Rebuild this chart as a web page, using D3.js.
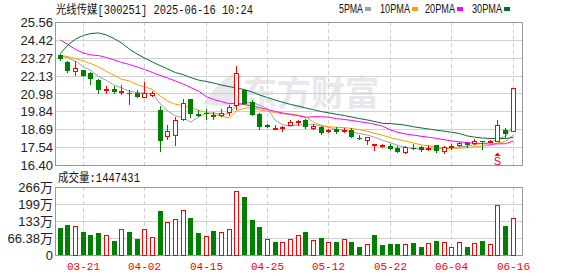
<!DOCTYPE html>
<meta charset='utf-8'>
<head>
    <title>K</title>
    <script src='https://cdn.jsdelivr.net/npm/d3@7/dist/d3.min.js'></script>
</head>
<style>
    body { margin: 0; background: #fff; }
    text { font-family: 'Liberation Sans', 'Noto Sans CJK SC', sans-serif; }
    .mono { font-family: 'Liberation Mono', 'Noto Sans CJK SC', monospace; }
</style>
<svg></svg>
<script>
    var vWidth = 578, vHeight = 276;

    var dates = ['03-18','03-19','03-20','03-21','03-24','03-25','03-26','03-27','03-28','03-31',
        '04-01','04-02','04-03','04-07','04-08','04-09','04-10','04-11','04-14','04-15',
        '04-16','04-17','04-18','04-21','04-22','04-23','04-24','04-25','04-28','04-29',
        '04-30','05-06','05-07','05-08','05-09','05-12','05-13','05-14','05-15','05-16',
        '05-19','05-20','05-21','05-22','05-23','05-26','05-27','05-28','05-29','05-30',
        '06-03','06-04','06-05','06-06','06-09','06-10','06-11','06-12','06-13','06-16'];
    var open = [23.42,23.00,22.44,22.47,22.31,21.84,21.18,21.25,21.08,21.01,
        20.99,20.74,20.89,19.92,18.24,18.30,19.35,20.63,19.67,19.73,
        19.58,19.58,19.79,20.26,21.18,20.44,19.67,18.96,18.71,18.77,
        18.94,19.15,19.28,18.77,18.81,18.60,18.71,18.56,18.66,18.13,
        18.00,17.66,17.64,17.62,17.47,17.25,17.51,17.55,17.41,17.66,
        17.30,17.53,17.66,17.79,17.79,17.94,17.87,17.96,18.62,18.56];
    var high = [23.49,23.04,23.04,22.50,22.36,21.91,21.44,21.44,21.50,21.18,
        21.18,21.74,21.14,20.18,18.98,19.47,20.60,20.63,19.94,19.97,
        19.79,19.97,20.22,22.74,21.29,20.54,19.75,19.01,18.94,18.90,
        19.28,19.30,19.37,19.03,18.90,18.69,18.83,18.79,18.75,18.30,
        18.19,17.77,17.75,17.77,17.62,17.62,17.73,17.62,17.68,17.70,
        17.62,17.73,17.90,17.85,18.09,17.94,18.03,19.26,18.80,21.31];
    var low = [23.11,22.36,22.18,22.08,21.61,21.03,21.03,21.01,20.97,20.33,
        20.76,20.74,20.82,17.28,18.05,17.66,19.30,19.50,19.52,19.37,
        19.33,19.54,19.62,19.97,20.29,19.58,18.69,18.81,18.69,18.58,
        18.94,18.98,18.77,18.69,18.41,18.52,18.43,18.52,18.19,18.07,
        17.77,17.36,17.57,17.43,17.25,17.19,17.41,17.30,17.34,17.23,
        17.19,17.45,17.62,17.57,17.75,17.45,17.85,17.92,18.19,18.56];
    var close = [23.17,22.44,22.59,22.12,21.93,21.22,21.24,21.08,21.16,20.95,
        20.78,20.99,21.01,17.92,18.56,19.26,20.35,19.65,19.56,19.67,
        19.47,19.71,20.09,22.31,20.33,19.62,18.81,18.85,18.77,18.83,
        19.15,19.22,18.85,18.90,18.43,18.66,18.52,18.64,18.19,18.07,
        18.19,17.75,17.68,17.43,17.25,17.53,17.45,17.34,17.51,17.32,
        17.55,17.60,17.83,17.66,17.92,17.90,17.94,18.94,18.41,21.31];
    // 成交量, 单位: 万
    var volume = [106,117,113,90,78,86,78,55,100,90,
        62,101,70,171,128,140,175,145,86,74,
        93,90,101,249,226,136,109,62,51,49,
        62,78,90,58,66,51,51,62,51,31,
        43,78,39,43,43,43,47,31,47,55,
        51,31,51,31,47,55,43,197,113,144.7431];

    // MA values before enough closes are on screen
    var ma5Lead = [23.42,23.25,23.05,22.70];
    var ma10Lead = [23.43,23.34,23.21,23.06,22.89,22.68,22.40,22.15,21.89];
    var ma20Lead = [24.41,24.12,23.80,23.57,23.45,23.41,23.29,23.13,22.97,22.84,
        22.68,22.52,22.33,22.14,21.97,21.78,21.59,21.36,21.14];
    var ma30Lead = [23.54,24.09,24.47,24.70,24.82,24.86,24.73,24.50,24.21,23.83,
        23.51,23.25,23.00,22.77,22.55,22.32,22.19,22.00,21.84,21.75,
        21.65,21.52,21.42,21.33,21.23,21.08,20.88,20.72,20.56];

    var priceTicks = [16.40,17.54,18.69,19.84,20.98,22.13,23.27,24.42,25.56];
    var volTicks = [0,66.38,132.76,199.14,265.52];
    var volTickLabels = ['0','66.38万','133万','199万','266万'];
    var dateTicks = ['03-21','04-02','04-15','04-25','05-12','05-22','06-04','06-16'];
    var maNames = ['5PMA','10PMA','20PMA','30PMA'];
    var maColors = ['#a0a0a0','#f5a100','#ff00ff','#0b6b35'];

    var RED = '#ff0000', GREEN = '#008000';

    var svg = d3.select('svg').attr('width', vWidth).attr('height', vHeight);

    var L = 55, R = 522, T = 22, B = 165, VT = 187, VB = 255;

    var x = d3.scalePoint().domain(dates).range([60.3, 513.1]);
    var y = d3.scaleLinear().domain([16.40, 25.56]).range([B, T]);
    var yv = d3.scaleLinear().domain([0, 265.52]).range([VB, VT]);

    function cx(d) { return Math.floor(x(d)); }

    // watermark
    var wm = svg.append('g').attr('fill', '#e7e7ec');
    wm.append('path')
        .attr('d', 'M203,104 C214,88 226,76 240,70 C230,80 222,92 218,106 Z M214,106 C220,92 230,80 242,74 C236,86 232,96 232,106 Z');
    wm.append('text').attr('x', 243).attr('y', 106)
        .attr('font-family', 'Noto Sans CJK SC').attr('font-weight', 'bold')
        .attr('font-size', 35).attr('textLength', 136).attr('lengthAdjust', 'spacingAndGlyphs')
        .text('东方财富');

    // grid
    var grid = svg.append('g').attr('stroke', '#d0d0d0').attr('shape-rendering', 'crispEdges');
    grid.selectAll('.hp').data(priceTicks.slice(1, -1)).enter().append('line')
        .attr('x1', L).attr('x2', R)
        .attr('y1', function(d) { return Math.round(y(d)) + 0.5; })
        .attr('y2', function(d) { return Math.round(y(d)) + 0.5; });
    grid.selectAll('.hv').data(volTicks.slice(1, -1)).enter().append('line')
        .attr('x1', L).attr('x2', R)
        .attr('y1', function(d) { return Math.round(yv(d)) + 0.5; })
        .attr('y2', function(d) { return Math.round(yv(d)) + 0.5; });
    dateTicks.forEach(function(d) {
        [[T, B], [VT, VB]].forEach(function(r) {
            grid.append('line').attr('stroke-dasharray', '4,3')
                .attr('x1', cx(d) + 0.5).attr('x2', cx(d) + 0.5)
                .attr('y1', r[0]).attr('y2', r[1]);
        });
    });

    // frames
    svg.append('rect').attr('x', L + 0.5).attr('y', T + 0.5).attr('width', R - L).attr('height', B - T)
        .attr('fill', 'none').attr('stroke', '#999');
    svg.append('rect').attr('x', L + 0.5).attr('y', VT + 0.5).attr('width', R - L).attr('height', VB - VT)
        .attr('fill', 'none').attr('stroke', '#999');

    // moving averages
    function ma(n, lead) {
        return close.map(function(c, i) {
            if (i < n - 1) return lead[i];
            return d3.mean(close.slice(i - n + 1, i + 1));
        });
    }
    var maSeries = [ma(5, ma5Lead), ma(10, ma10Lead), ma(20, ma20Lead), ma(30, ma30Lead)];
    var line = d3.line().x(function(d, i) { return x(dates[i]); }).y(function(d) { return y(d); });
    svg.append('g').selectAll('path').data(maSeries).enter().append('path')
        .attr('d', line).attr('fill', 'none').attr('stroke-width', 1)
        .attr('stroke', function(d, i) { return maColors[i]; });

    // candles
    var candles = dates.map(function(d, i) {
        return {date: d, o: open[i], h: high[i], l: low[i], c: close[i], v: volume[i],
            up: close[i] >= open[i], vup: i === 0 ? close[i] >= open[i] : close[i] >= close[i - 1]};
    });
    var cg = svg.append('g').attr('shape-rendering', 'crispEdges');
    var k = cg.selectAll('g').data(candles).enter().append('g');
    k.append('line')
        .attr('x1', function(d) { return cx(d.date) + 0.5; })
        .attr('x2', function(d) { return cx(d.date) + 0.5; })
        .attr('y1', function(d) { return Math.round(y(d.h)); })
        .attr('y2', function(d) { return Math.round(y(d.l)) + 1; })
        .attr('stroke', function(d) { return d.up ? RED : GREEN; });
    k.append('rect')
        .attr('x', function(d) { return d.up ? cx(d.date) - 1.5 : cx(d.date) - 2; })
        .attr('y', function(d) { var t = Math.round(y(Math.max(d.o, d.c))); return d.up ? t + 0.5 : t; })
        .attr('width', function(d) { return d.up ? 4 : 5; })
        .attr('height', function(d) {
            var h = Math.round(y(Math.min(d.o, d.c))) - Math.round(y(Math.max(d.o, d.c)));
            return d.up ? Math.max(h, 0.01) : Math.max(h, 1);
        })
        .attr('fill', function(d) { return d.up ? '#fff' : GREEN; })
        .attr('stroke', function(d) { return d.up ? RED : 'none'; });

    // volume bars
    svg.append('g').attr('shape-rendering', 'crispEdges').selectAll('rect').data(candles).enter().append('rect')
        .attr('x', function(d) { return d.vup ? cx(d.date) - 1.5 : cx(d.date) - 2; })
        .attr('y', function(d) { var t = Math.round(yv(d.v)); return d.vup ? t + 0.5 : t; })
        .attr('width', function(d) { return d.vup ? 4 : 5; })
        .attr('height', function(d) { return VB - Math.round(yv(d.v)) - (d.vup ? 0.5 : 0); })
        .attr('fill', function(d) { return d.vup ? '#fff' : GREEN; })
        .attr('stroke', function(d) { return d.vup ? RED : 'none'; });

    // signal marker
    var sx = cx('06-12') + 0.5;
    svg.append('path').attr('d', 'M' + (sx - 3) + ',156 L' + sx + ',152.5 L' + (sx + 3) + ',156 Z').attr('fill', RED);
    svg.append('text').attr('x', sx).attr('y', 164.5).attr('text-anchor', 'middle')
        .attr('font-size', 11).attr('fill', RED).text('S');

    // y labels
    svg.append('g').selectAll('text').data(priceTicks).enter().append('text')
        .attr('x', 53).attr('y', function(d) { return y(d) + 5; })
        .attr('text-anchor', 'end').attr('font-size', 13).attr('fill', '#222')
        .text(function(d) { return d.toFixed(2); });
    svg.append('g').selectAll('text').data(volTicks).enter().append('text')
        .attr('x', 53).attr('y', function(d) { return yv(d) + 5; })
        .attr('text-anchor', 'end').attr('font-size', 13).attr('fill', '#222')
        .text(function(d, i) { return volTickLabels[i]; });

    // date labels
    svg.append('g').selectAll('text').data(dateTicks).enter().append('text')
        .attr('class', 'mono')
        .attr('x', function(d) { return cx(d) + 0.5; }).attr('y', 270)
        .attr('text-anchor', 'middle').attr('font-size', 11).attr('fill', RED)
        .text(function(d) { return d; });

    // title and legend
    svg.append('text').attr('class', 'mono').attr('x', 56).attr('y', 14).attr('font-size', 12).attr('fill', '#111')
        .attr('textLength', 197).attr('lengthAdjust', 'spacingAndGlyphs')
        .text('光线传媒[300251] 2025-06-16 10:24');
    svg.append('text').attr('class', 'mono').attr('x', 58).attr('y', 182).attr('font-size', 12).attr('fill', '#111')
        .attr('textLength', 82).attr('lengthAdjust', 'spacingAndGlyphs')
        .text('成交量:' + Math.round(volume[volume.length - 1] * 10000));

    var legX = [339, 380, 425, 472];
    var leg = svg.append('g').selectAll('g').data(maNames).enter().append('g')
        .attr('transform', function(d, i) { return 'translate(' + legX[i] + ',0)'; });
    leg.append('text').attr('y', 13).attr('font-size', 12).attr('fill', '#111')
        .attr('font-family', 'Liberation Serif')
        .attr('textLength', function(d) { return d.length * 6; }).attr('lengthAdjust', 'spacingAndGlyphs')
        .text(function(d) { return d; });
    leg.append('rect').attr('x', function(d) { return d.length * 6 + 2; }).attr('y', 7)
        .attr('width', 6).attr('height', 4)
        .attr('fill', function(d, i) { return maColors[i]; });
</script>
